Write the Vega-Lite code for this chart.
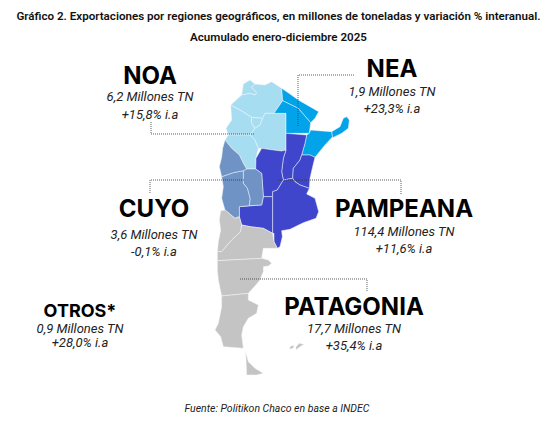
{"$schema":"https://vega.github.io/schema/vega-lite/v6.json","width":555,"height":431,"autosize":{"type":"none"},"padding":0,"background":"white","config":{"view":{"stroke":null},"font":"Roboto"},
"title":{"text":["Gráfico 2. Exportaciones por regiones geográficos, en millones de toneladas y variación % interanual.","Acumulado enero-diciembre 2025"],"anchor":"middle","frame":"group","baseline":"top","offset":-44,"dx":1,"font":"Roboto","fontSize":11.6,"fontWeight":600,"lineHeight":21,"color":"#111111"},
"projection":{"type":"identity","scale":0.33333,"translate":[200,70]},
"datasets":{
"labels":[
{"kind":"name","text":"NOA","lon":-150,"lat":15},{"kind":"detail","text":"6,2 Millones TN","lon":-150,"lat":75},{"kind":"detail","text":"+15,8% i.a","lon":-150,"lat":129},
{"kind":"name","text":"NEA","lon":576,"lat":-6},{"kind":"detail","text":"1,9 Millones TN","lon":576,"lat":60},{"kind":"detail","text":"+23,3% i.a","lon":576,"lat":111},
{"kind":"name","text":"CUYO","lon":-138,"lat":414},{"kind":"detail","text":"3,6 Millones TN","lon":-138,"lat":489},{"kind":"detail","text":"-0,1% i.a","lon":-138,"lat":540},
{"kind":"name","text":"PAMPEANA","lon":612,"lat":414},{"kind":"detail","text":"114,4 Millones TN","lon":612,"lat":480},{"kind":"detail","text":"+11,6% i.a","lon":612,"lat":531},
{"kind":"small","text":"OTROS*","lon":-360,"lat":720},{"kind":"detail","text":"0,9 Millones TN","lon":-360,"lat":771},{"kind":"detail","text":"+28,0% i.a","lon":-360,"lat":813},
{"kind":"name","text":"PATAGONIA","lon":462,"lat":708},{"kind":"detail","text":"17,7 Millones TN","lon":462,"lat":771},{"kind":"detail","text":"+35,4% i.a","lon":462,"lat":822},
{"kind":"source","text":"Fuente: Politikon Chaco en base a INDEC","lon":231,"lat":1011}
]},
"layer":[
{"data":{"values":[
{"type":"Feature","properties":{"name":"Jujuy","region":"NOA"},"geometry":{"type":"Polygon","coordinates":[[[130,42],[150,30],[165,42],[155,52],[170,68],[165,75],[150,70],[125,75],[130,42]]]}},
{"type":"Feature","properties":{"name":"Salta","region":"NOA"},"geometry":{"type":"Polygon","coordinates":[[[125,75],[150,70],[165,75],[170,68],[155,52],[165,42],[195,45],[215,35],[245,55],[248,92],[222,130],[195,130],[188,145],[155,142],[125,123],[92,105],[125,75]]]}},
{"type":"Feature","properties":{"name":"Catamarca","region":"NOA"},"geometry":{"type":"Polygon","coordinates":[[[92,105],[125,123],[155,142],[155,160],[165,175],[150,195],[85,195],[78,175],[95,150],[92,105]]]}},
{"type":"Feature","properties":{"name":"La Rioja","region":"NOA"},"geometry":{"type":"Polygon","coordinates":[[[75,210],[85,195],[150,195],[165,210],[175,235],[168,265],[167,297],[140,297],[130,280],[118,255],[95,235],[75,210]]]}},
{"type":"Feature","properties":{"name":"Tucumán","region":"NOA"},"geometry":{"type":"Polygon","coordinates":[[[155,142],[188,145],[180,165],[165,175],[155,160],[155,142]]]}},
{"type":"Feature","properties":{"name":"Santiago del Estero","region":"NOA"},"geometry":{"type":"Polygon","coordinates":[[[195,130],[258,130],[258,240],[245,243],[220,240],[185,235],[175,235],[165,210],[150,195],[165,175],[180,165],[188,145],[195,130]]]}},
{"type":"Feature","properties":{"name":"Formosa","region":"NEA"},"geometry":{"type":"Polygon","coordinates":[[[245,55],[270,72],[295,90],[330,110],[356,125],[345,145],[332,158],[295,115],[248,92],[245,55]]]}},
{"type":"Feature","properties":{"name":"Chaco","region":"NEA"},"geometry":{"type":"Polygon","coordinates":[[[248,92],[295,115],[332,158],[328,190],[258,190],[258,130],[222,130],[248,92]]]}},
{"type":"Feature","properties":{"name":"Corrientes","region":"NEA"},"geometry":{"type":"Polygon","coordinates":[[[328,190],[332,180],[355,182],[395,185],[398,200],[375,225],[345,262],[330,255],[305,255],[315,220],[320,195],[328,190]]]}},
{"type":"Feature","properties":{"name":"Misiones","region":"NEA"},"geometry":{"type":"Polygon","coordinates":[[[395,185],[420,170],[430,145],[440,140],[448,150],[445,175],[425,190],[398,203],[395,185]]]}},
{"type":"Feature","properties":{"name":"Santa Fe","region":"Pampeana"},"geometry":{"type":"Polygon","coordinates":[[[258,190],[320,195],[315,220],[305,255],[300,270],[280,295],[278,325],[250,330],[245,305],[250,265],[258,240],[258,190]]]}},
{"type":"Feature","properties":{"name":"Entre Ríos","region":"Pampeana"},"geometry":{"type":"Polygon","coordinates":[[[305,255],[330,255],[345,262],[338,290],[330,325],[328,355],[300,345],[285,335],[278,325],[280,295],[300,270],[305,255]]]}},
{"type":"Feature","properties":{"name":"Córdoba","region":"Pampeana"},"geometry":{"type":"Polygon","coordinates":[[[185,235],[220,240],[245,243],[258,240],[250,265],[245,305],[250,330],[232,360],[218,365],[218,380],[190,380],[187,335],[185,310],[167,297],[168,265],[185,235]]]}},
{"type":"Feature","properties":{"name":"La Pampa","region":"Pampeana"},"geometry":{"type":"Polygon","coordinates":[[[118,410],[185,405],[190,380],[218,380],[218,490],[190,475],[150,470],[125,465],[118,440],[118,410]]]}},
{"type":"Feature","properties":{"name":"Buenos Aires","region":"Pampeana"},"geometry":{"type":"Polygon","coordinates":[[[218,365],[232,360],[250,330],[278,325],[285,335],[300,345],[328,355],[320,372],[345,385],[356,425],[348,445],[310,458],[270,478],[245,482],[247,500],[240,530],[232,535],[222,515],[222,490],[218,490],[218,365]]]}},
{"type":"Feature","properties":{"name":"San Luis","region":"Cuyo"},"geometry":{"type":"Polygon","coordinates":[[[130,302],[140,297],[167,297],[185,310],[187,335],[190,380],[185,405],[148,407],[150,385],[142,355],[130,340],[130,302]]]}},
{"type":"Feature","properties":{"name":"Mendoza","region":"Cuyo"},"geometry":{"type":"Polygon","coordinates":[[[65,320],[100,308],[130,302],[130,340],[142,355],[150,385],[148,407],[118,410],[118,440],[105,445],[75,420],[65,385],[70,350],[65,320]]]}},
{"type":"Feature","properties":{"name":"San Juan","region":"Cuyo"},"geometry":{"type":"Polygon","coordinates":[[[75,210],[95,235],[118,255],[130,280],[140,297],[130,302],[100,308],[65,320],[58,290],[65,262],[68,235],[75,210]]]}},
{"type":"Feature","properties":{"name":"Neuquén","region":"Patagonia"},"geometry":{"type":"Polygon","coordinates":[[[62,422],[75,420],[105,445],[118,440],[125,465],[122,485],[95,510],[65,545],[52,545],[55,515],[62,480],[58,450],[62,422]]]}},
{"type":"Feature","properties":{"name":"Río Negro","region":"Patagonia"},"geometry":{"type":"Polygon","coordinates":[[[122,485],[125,465],[150,470],[190,475],[218,490],[222,515],[232,535],[190,535],[185,565],[52,572],[52,545],[65,545],[95,510],[122,485]]]}},
{"type":"Feature","properties":{"name":"Chubut","region":"Patagonia"},"geometry":{"type":"Polygon","coordinates":[[[52,572],[185,565],[205,570],[215,580],[205,588],[190,590],[190,605],[180,630],[165,648],[145,670],[65,678],[60,655],[55,630],[52,600],[52,572]]]}},
{"type":"Feature","properties":{"name":"Santa Cruz","region":"Patagonia"},"geometry":{"type":"Polygon","coordinates":[[[65,678],[145,670],[145,690],[175,705],[170,730],[145,745],[130,770],[125,795],[130,835],[70,830],[62,800],[45,780],[55,760],[65,710],[65,678]]]}},
{"type":"Feature","properties":{"name":"Tierra del Fuego","region":"Patagonia"},"geometry":{"type":"Polygon","coordinates":[[[137,845],[145,875],[165,895],[190,910],[170,915],[140,915],[137,845]]]}},
{"type":"Feature","properties":{"name":"Malvinas","region":"Patagonia"},"geometry":{"type":"MultiPolygon","coordinates":[[[[268,832],[280,825],[282,832],[272,838],[268,832]]],[[[288,830],[298,820],[312,823],[298,832],[288,840],[288,830]]]]}}
],"format":{"type":"json"}},
"mark":{"type":"geoshape","stroke":"#f2f6fa","strokeWidth":0.5},
"encoding":{"color":{"field":"properties.region","type":"nominal","legend":null,"scale":{"domain":["NOA","NEA","Cuyo","Pampeana","Patagonia"],"range":["#A6DDF0","#02A3E8","#6F93C4","#3F46CC","#C4C4C4"]}}}},
{"data":{"values":[
{"type":"Feature","properties":{"name":"NEA"},"geometry":{"type":"LineString","coordinates":[[462,15],[294,15],[294,171]]}},
{"type":"Feature","properties":{"name":"NOA"},"geometry":{"type":"LineString","coordinates":[[-147,156],[-147,192],[162,192]]}},
{"type":"Feature","properties":{"name":"CUYO"},"geometry":{"type":"LineString","coordinates":[[-150,369],[-150,330],[135,330]]}},
{"type":"Feature","properties":{"name":"PAMPEANA"},"geometry":{"type":"LineString","coordinates":[[234,330],[603,330],[603,372]]}},
{"type":"Feature","properties":{"name":"PATAGONIA"},"geometry":{"type":"LineString","coordinates":[[120,627],[501,627],[501,666]]}}
],"format":{"type":"json"}},
"mark":{"type":"geoshape","filled":false,"stroke":"#333333","strokeWidth":0.8,"strokeDash":[1,1]}},
{"data":{"name":"labels"},"transform":[{"filter":"datum.kind==='name'"}],"mark":{"type":"text","font":"Inter","fontWeight":700,"fontSize":24,"dy":2,"color":"#000000","align":"center","baseline":"middle"},"encoding":{"longitude":{"field":"lon","type":"quantitative"},"latitude":{"field":"lat","type":"quantitative"},"text":{"field":"text"}}},
{"data":{"name":"labels"},"transform":[{"filter":"datum.kind==='small'"}],"mark":{"type":"text","font":"Inter","fontWeight":700,"fontSize":18,"dy":2,"color":"#000000","align":"center","baseline":"middle"},"encoding":{"longitude":{"field":"lon","type":"quantitative"},"latitude":{"field":"lat","type":"quantitative"},"text":{"field":"text"}}},
{"data":{"name":"labels"},"transform":[{"filter":"datum.kind==='detail'"}],"mark":{"type":"text","font":"Roboto","fontStyle":"italic","fontSize":13,"dy":2,"color":"#222222","align":"center","baseline":"middle"},"encoding":{"longitude":{"field":"lon","type":"quantitative"},"latitude":{"field":"lat","type":"quantitative"},"text":{"field":"text"}}},
{"data":{"name":"labels"},"transform":[{"filter":"datum.kind==='source'"}],"mark":{"type":"text","font":"Roboto","fontStyle":"italic","fontSize":10.5,"dy":2,"color":"#222222","align":"center","baseline":"middle"},"encoding":{"longitude":{"field":"lon","type":"quantitative"},"latitude":{"field":"lat","type":"quantitative"},"text":{"field":"text"}}}
]}
